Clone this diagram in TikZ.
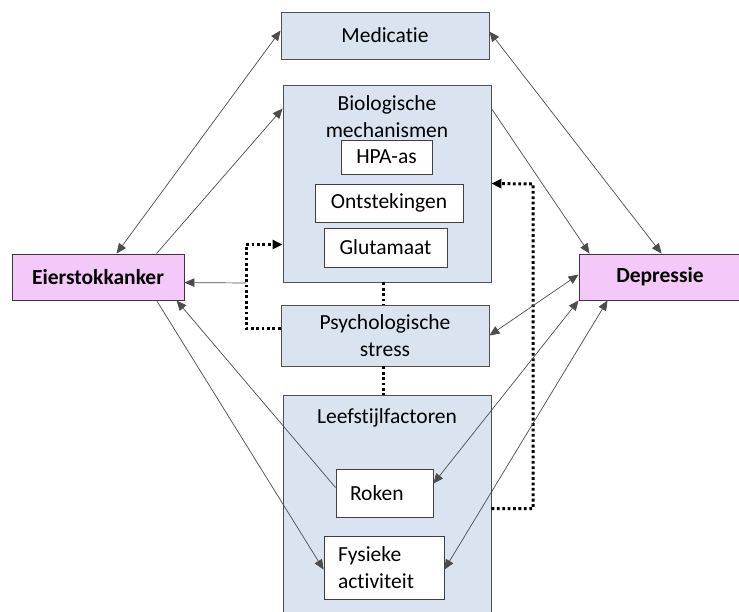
\documentclass[tikz,border=0pt]{standalone}
\usepackage{fontspec}
\setmainfont[Ligatures=NoCommon]{Carlito}
\usetikzlibrary{calc,arrows.meta}
\definecolor{bluefill}{HTML}{DAE3F0}
\definecolor{pinkfill}{HTML}{F4C8F8}
\definecolor{edge}{HTML}{505050}
\newcommand{\mytxt}{\fontsize{21.5}{27}\selectfont}
\tikzset{
  box/.style={draw=edge, line width=0.9pt, fill=bluefill, inner sep=0pt, anchor=center},
  wbox/.style={draw=edge!80!black, line width=0.8pt, fill=white, inner sep=0pt, anchor=center, align=center},
  pbox/.style={draw=edge!70!black, line width=0.9pt, fill=pinkfill, inner sep=0pt, anchor=center, font=\mytxt\bfseries},
  lbl/.style={inner sep=0pt, align=center},
  conn/.style={draw=black!70, line width=0.7pt},
  tip/.style={-{Triangle[length=10pt,width=8.5pt]}},
  bitip/.style={{Triangle[length=10pt,width=8.5pt]}-{Triangle[length=10pt,width=8.5pt]}},
  dots/.style={draw=black, line width=3pt, dash pattern=on 2.8pt off 2.6pt},
  dottip/.style={-{Triangle[length=10pt,width=9pt]}}
}
\begin{document}
\begin{tikzpicture}[x=1pt,y=-1pt,font=\mytxt]
\useasboundingbox (0,0) rectangle (739,612);
\fill[white] (0,0) rectangle (739,612);
% boxes
\node[box, minimum width=208pt, minimum height=47pt] (med) at (385,35.5) {Medicatie};
\node[box, minimum width=208pt, minimum height=197pt] (bio) at (387,183.5) {};
\node[lbl] (biot) at (387,117) {Biologische\\mechanismen};
\node[wbox, minimum width=91pt, minimum height=34pt] (hpa) at (386.5,157) {HPA-as};
\node[wbox, minimum width=148pt, minimum height=38pt] (ont) at (389,203) {Ontstekingen};
\node[wbox, minimum width=123pt, minimum height=39pt] (glu) at (385.5,247.5) {Glutamaat};
\node[box, minimum width=208pt, minimum height=61pt, align=center] (psy) at (385,335.5) {Psychologische\\stress};
\node[box, minimum width=208pt, minimum height=220pt] (lef) at (387,505) {};
\node[lbl] (left) at (387,418) {Leefstijlfactoren};
\node[wbox, text width=69pt, inner xsep=14pt, minimum height=48pt, align=left] (rok) at (384.5,493) {Roken};
\node[wbox, text width=92pt, inner xsep=14pt, minimum height=63pt, align=left] (fys) at (384,567.5) {Fysieke\\activiteit};
\node[pbox, minimum width=172pt, minimum height=46pt] (eier) at (98,277) {Eierstokkanker};
\node[pbox, minimum width=162pt, minimum height=46pt] (dep) at (660,277) {Depressie};
% dotted connectors
\draw[dots] (bio.south -| 383,0) -- (psy.north -| 383,0);
\draw[dots] (psy.south -| 383,0) -- (lef.north -| 383,0);
\coordinate (jl) at (246,283);
\draw[dots, dottip] ($(psy.north west)+(0,24)$) -| (jl) |- ($(bio.north west)+(0,160)$);
\draw[dots, dottip] ($(lef.north east)+(0,114)$) -| (533,184) -- ($(bio.north east)+(0,99)$);
% solid connectors
\draw[conn, tip] (jl) -- ($(eier.north east)+(0,29)$);
\draw[conn, bitip] ($(eier.north west)+(105,0)$) -- ($(med.north west)+(0,19)$);
\draw[conn, tip] ($(eier.north west)+(145,0)$) -- ($(bio.north west)+(0,24)$);
\draw[conn, bitip] ($(med.north east)+(0,20)$) -- ($(dep.north west)+(83,0)$);
\draw[conn, tip] ($(bio.north east)+(0,24)$) -- ($(dep.north west)+(11,0)$);
\draw[conn, bitip] ($(dep.north west)+(0,21)$) -- (psy.east);
\draw[conn, bitip] (dep.south west) -- ($(rok.north east)+(0,15)$);
\draw[conn, bitip] ($(dep.south west)+(29,0)$) -- ($(fys.north east)+(0,34)$);
\draw[conn, tip] ($(rok.north west)+(0,19)$) -- ($(eier.south west)+(165,0)$);
\draw[conn, tip] ($(eier.south west)+(145,0)$) -- ($(fys.north west)+(0,34)$);
\end{tikzpicture}
\end{document}
